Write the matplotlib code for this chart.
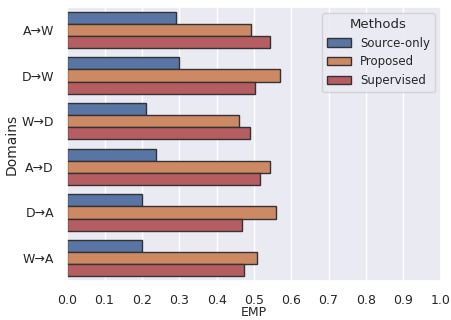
import numpy as np
import pandas as pd
import matplotlib
matplotlib.use("Agg")
import matplotlib.pyplot as plt
import seaborn as sns

domains = ["A→W", "D→W", "W→D", "A→D", "D→A", "W→A"]
methods = ["Source-only", "Proposed", "Supervised"]
source_only = [0.292, 0.300, 0.212, 0.239, 0.201, 0.201]
proposed = [0.492, 0.569, 0.461, 0.543, 0.558, 0.507]
supervised = [0.542, 0.503, 0.490, 0.516, 0.467, 0.474]

rows = []
for vals, m in zip([source_only, proposed, supervised], methods):
    for d, v in zip(domains, vals):
        rows.append({"Domains": d, "EMP": v, "Methods": m})
df = pd.DataFrame(rows)

sns.set_theme(style="darkgrid")
plt.rcParams['font.family'] = ['DejaVu Sans']

fig, ax = plt.subplots(figsize=(4.51, 3.2), dpi=100)
sns.barplot(data=df, x="EMP", y="Domains", hue="Methods", orient="h",
            palette=["#4c72b0", "#dd8452", "#c44e52"], saturation=0.75,
            edgecolor=".2", linewidth=1, ax=ax)
ax.set_xlim(0, 1.0)
ax.set_xticks(np.arange(0, 1.01, 0.1))
ax.tick_params(labelsize=9)
ax.set_xlabel("EMP", fontsize=9, labelpad=-1)
ax.set_ylabel("Domains", fontsize=10, labelpad=2)
ax.legend(title="Methods", loc="upper right", fontsize=8.5, title_fontsize=9.5,
          borderaxespad=0.5)
fig.subplots_adjust(left=0.149, right=0.977, top=0.978, bottom=0.122)
fig.savefig("out.png", dpi=100)
